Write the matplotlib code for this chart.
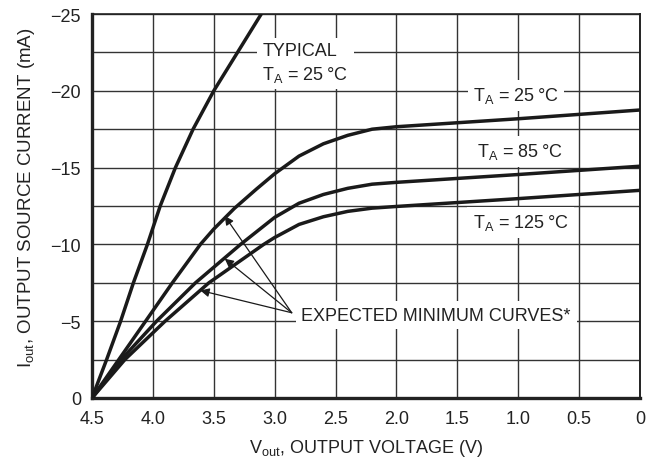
import matplotlib
matplotlib.use("Agg")
import matplotlib.pyplot as plt
from matplotlib import font_manager
import numpy as np

# output voltage (V) / output source current (mA)
typ_v = [4.5, 4.38, 4.265, 4.16, 4.045, 3.94, 3.815, 3.67, 3.50, 3.305, 3.11]
typ_i = [0, -2.5, -5, -7.5, -10, -12.5, -15, -17.5, -20, -22.5, -25]

min25_v = [4.5, 4.28, 4.06, 3.84, 3.61, 3.50, 3.33, 3.15, 3.0, 2.8, 2.6, 2.4, 2.2, 2.0, 1.0, 0.0]
min25_i = [0, -2.5, -5, -7.5, -10, -11.0, -12.35, -13.6, -14.6, -15.75, -16.55, -17.1, -17.5,
           -17.66, -18.18, -18.75]

min85_v = [4.5, 4.26, 3.97, 3.65, 3.28, 3.0, 2.8, 2.6, 2.4, 2.2, 2.0, 1.0, 0.0]
min85_i = [0, -2.5, -5, -7.5, -10, -11.76, -12.68, -13.25, -13.65, -13.92, -14.04, -14.55, -15.09]

min125_v = [4.5, 4.23, 3.90, 3.54, 3.09, 3.0, 2.8, 2.6, 2.4, 2.2, 2.0, 1.0, 0.0]
min125_i = [0, -2.5, -5, -7.5, -10, -10.45, -11.3, -11.8, -12.15, -12.36, -12.47, -12.98, -13.52]

x_ticks = [4.5, 4.0, 3.5, 3.0, 2.5, 2.0, 1.5, 1.0, 0.5, 0]
x_labels = ["4.5", "4.0", "3.5", "3.0", "2.5", "2.0", "1.5", "1.0", "0.5", "0"]
y_ticks = [0, -5, -10, -15, -20, -25]
y_labels = ["0", "\u22125", "\u221210", "\u221215", "\u221220", "\u221225"]
y_minor = [-2.5, -7.5, -12.5, -17.5, -22.5]

names = {f.name for f in font_manager.fontManager.ttflist}
FONT = "Liberation Sans Narrow" if "Liberation Sans Narrow" in names else "Liberation Sans"
plt.rcParams["font.family"] = [FONT, "DejaVu Sans"]
plt.rcParams["mathtext.fontset"] = "custom"
plt.rcParams["mathtext.rm"] = FONT

fig = plt.figure(figsize=(6.52, 4.64), dpi=100)
ax = fig.add_axes([92 / 652, 1 - 399 / 464, 548 / 652, 384 / 464])

ax.set_xlim(4.5, 0)
ax.set_ylim(0, -25)
ax.set_xticks(x_ticks)
ax.set_xticklabels(x_labels)
ax.set_yticks(y_ticks)
ax.set_yticklabels(y_labels)
ax.set_yticks(y_minor, minor=True)
ax.tick_params(which="both", length=0, labelsize=13, colors="#222222")
ax.tick_params(axis="x", pad=9)
ax.tick_params(axis="y", pad=8)

ax.set_axisbelow(True)
ax.grid(True, which="both", color="#333333", lw=1.0)

for side, w in [("left", 2.4), ("bottom", 2.4), ("top", 1.2), ("right", 1.4)]:
    ax.spines[side].set_linewidth(w)
    ax.spines[side].set_color("#222222")

curve_kw = dict(color="#1a1a1a", lw=2.5, zorder=4, solid_joinstyle="round")
ax.plot(typ_v, typ_i, **curve_kw)
ax.plot(min25_v, min25_i, **curve_kw)
ax.plot(min85_v, min85_i, **curve_kw)
ax.plot(min125_v, min125_i, **curve_kw)

deg = "\u2009\u00b0C"
box = dict(facecolor="white", edgecolor="none", pad=4)
txt_kw = dict(fontsize=13, color="#222222", zorder=3, bbox=box)
ax.text(3.10, -21.8, "TYPICAL\n$\\mathregular{T_A}$ = 25" + deg, ha="left", va="center",
        linespacing=1.3, **txt_kw)
ax.text(1.37, -19.7, "$\\mathregular{T_A}$ = 25" + deg, ha="left", va="center", **txt_kw)
ax.text(1.34, -16.05, "$\\mathregular{T_A}$ = 85" + deg, ha="left", va="center", **txt_kw)
ax.text(1.375, -11.45, "$\\mathregular{T_A}$ = 125" + deg, ha="left", va="center", **txt_kw)
ax.text(2.78, -5.4, "EXPECTED MINIMUM CURVES*", ha="left", va="center", **txt_kw)

arrow_kw = dict(arrowstyle="-|>", color="#1a1a1a", lw=0.9, mutation_scale=13,
                shrinkA=0, shrinkB=0)
for tip in [(3.41, -11.85), (3.41, -9.07), (3.61, -7.0)]:
    ax.annotate("", xy=tip, xytext=(2.86, -5.55), arrowprops=arrow_kw, zorder=5)

ax.set_xlabel("$\\mathregular{V_{out}}$, OUTPUT VOLTAGE (V)", fontsize=13, color="#222222",
              labelpad=7)
ax.set_ylabel("$\\mathregular{I_{out}}$, OUTPUT SOURCE CURRENT (mA)", fontsize=13.5,
              color="#222222")
ax.yaxis.set_label_coords(-0.10, 0.525)

fig.savefig("out.png", dpi=100)
